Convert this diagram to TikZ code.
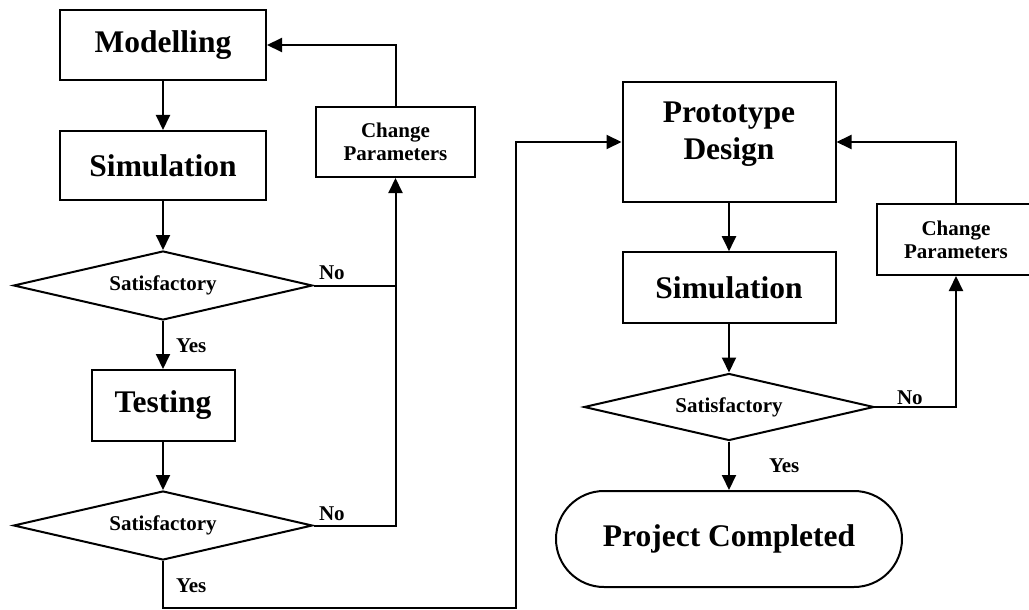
\documentclass[tikz,border=0pt]{standalone}
\usepackage{fontspec}
\setmainfont{Liberation Serif}
\usetikzlibrary{arrows.meta,shapes.geometric}
\begin{document}
\begin{tikzpicture}[x=1pt,y=-1pt, line width=2pt,
  big/.style={font=\fontsize{31.5}{37}\selectfont\bfseries},
  small/.style={font=\fontsize{21}{23}\selectfont\bfseries},
  box/.style={draw, rectangle, minimum height=70pt, inner sep=0pt, big},
  cpbox/.style={draw, rectangle, minimum width=159pt, minimum height=70pt, align=center, small, inner sep=0pt},
  decision/.style={draw, diamond, aspect=4.3, minimum width=299pt, minimum height=69pt, inner sep=0pt, small},
  flow/.style={-{Triangle[length=15pt,width=14pt]}},
  lbl/.style={small, inner sep=0pt, anchor=base west}]
\useasboundingbox (0,0) rectangle (1029,610);

% left column
\node[box, minimum width=206pt] (mod) at (163,45) {Modelling};
\node[box, minimum width=206pt, minimum height=69pt] (sim1) at (163,165.5) {Simulation};
\node[decision] (d1) at (163,285.5) {Satisfactory};
\node[box, minimum width=143pt, minimum height=71pt] (test) at (163,405.5) {Testing};
\node[decision] (d2) at (163,525.5) {Satisfactory};
\node[cpbox] (cp1) at (395.5,142) {Change\\Parameters};

% right column
\node[box, minimum width=213pt, minimum height=120pt] (pd) at (729,142) {};
\node[big, align=center, inner sep=0pt, yshift=7.5pt] (pdtext) at (pd.center) {Prototype\\Design};
\node[box, minimum width=213pt, minimum height=71pt] (sim2) at (729,287.7) {Simulation};
\node[decision, minimum width=290pt, minimum height=67pt] (d3) at (729,407) {Satisfactory};
\node[cpbox, minimum height=71pt] (cp2) at (956,239.5) {Change\\Parameters};
\node[draw, rectangle, rounded corners=48pt, minimum width=346pt, minimum height=96pt, inner sep=0pt, big] (pc) at (729,539) {Project Completed};

% labels
\node[lbl] (no1) at (318,279.3) {No};
\node[lbl] (no2) at (318,520) {No};
\node[lbl] (no3) at (896,404) {No};
\node[lbl] (yes1) at (175,352) {Yes};
\node[lbl] (yes2) at (175,592) {Yes};
\node[lbl] (yes3) at (768,472.5) {Yes};

% connectors
\draw[flow] (mod) -- (sim1);
\draw[flow] (sim1) -- (d1);
\draw[flow] (d1) -- (test);
\draw[flow] (test) -- (d2);
\draw (d1.east) -- (cp1.south |- d1.east);
\draw[flow] (d2.east) -| (cp1.south);
\draw[flow] (cp1.north) |- (mod.east);
\coordinate (turn) at (516,608);
\draw[flow] (d2.south) |- (turn) |- (pd.west);
\draw[flow] (pd) -- (sim2);
\draw[flow] (sim2) -- (d3);
\draw[flow] (d3) -- (pc);
\draw[flow] (d3.east) -| (cp2.south);
\draw[flow] (cp2.north) |- (pd.east);
\end{tikzpicture}
\end{document}
